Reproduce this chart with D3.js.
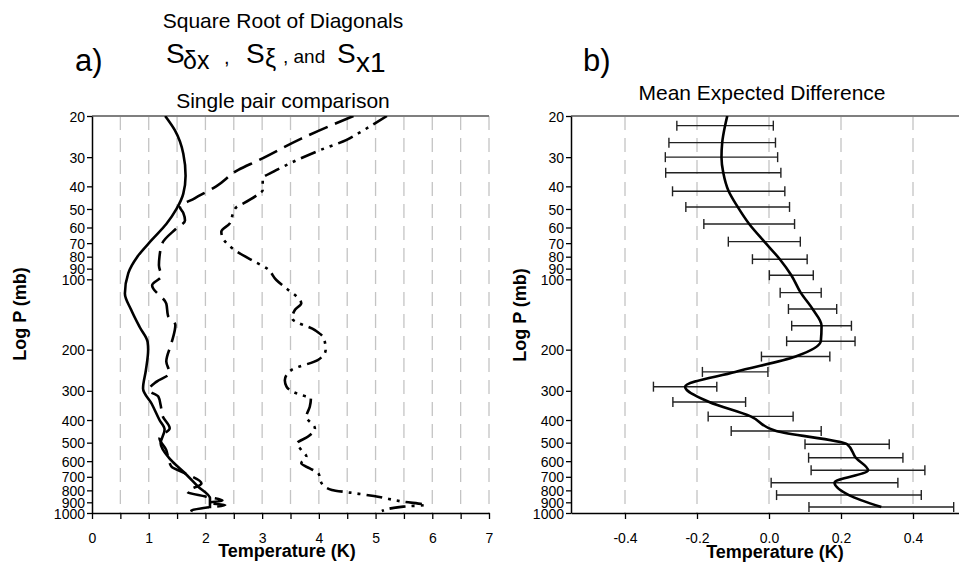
<!DOCTYPE html>
<html>
<head>
<meta charset="utf-8">
<script src="https://cdn.jsdelivr.net/npm/d3@7"></script>
<style>
  body { margin: 0; background: #fff; }
  text { font-family: "Liberation Sans", Arial, sans-serif; }
</style>
</head>
<body>
<svg id="chart" width="959" height="568"></svg>
<script>
// axis ticks
const pressureTicks = [20, 30, 40, 50, 60, 70, 80, 90, 100, 200, 300, 400, 500, 600, 700, 800, 900, 1000];
const tempTicksA = [0, 1, 2, 3, 4, 5, 6, 7];
const tempTicksB = [-0.4, -0.2, 0.0, 0.2, 0.4];

// panel a: solid curve (pressure mb, K)
const solidP = [20, 23, 29, 36, 43, 50, 58, 68, 80, 94, 115, 135, 160, 185, 200, 245, 293, 340, 400, 440, 503, 593, 676, 771, 865, 955];
const solidT = [1.29, 1.46, 1.61, 1.65, 1.61, 1.49, 1.31, 1.05, 0.80, 0.64, 0.58, 0.69, 0.84, 0.98, 0.99, 0.95, 0.90, 1.05, 1.19, 1.28, 1.21, 1.39, 1.64, 1.87, 2.08, 2.08];

// panel a: long dash curve
const dashP = [20, 25, 31, 34, 40, 45, 49, 52, 56, 60.5, 70, 80, 87, 97, 106, 127, 143, 157, 188, 225, 252, 274, 298, 318, 345, 387, 434, 479, 538, 574, 633, 676, 747, 811, 850, 885, 905, 925, 950, 975, 990];
const dashT = [4.61, 3.69, 2.93, 2.58, 2.19, 1.81, 1.55, 1.61, 1.64, 1.49, 1.24, 1.19, 1.18, 1.22, 1.06, 1.31, 1.34, 1.47, 1.40, 1.31, 1.37, 1.14, 1.00, 1.17, 1.21, 1.25, 1.37, 1.19, 1.31, 1.34, 1.40, 1.64, 1.93, 1.68, 2.00, 2.30, 2.05, 2.35, 2.00, 1.75, 1.90];

// panel a: dash-dot-dot curve
const ddotP = [20, 21.5, 23.7, 25.3, 28, 31.9, 34.6, 37, 41.5, 43.6, 47.3, 49, 52, 57.6, 62.5, 66.8, 75, 82.6, 89.7, 100.7, 111, 118.6, 126.6, 135, 147, 165, 179, 200, 221, 244, 270, 288, 313, 322, 351, 387, 434, 471, 503, 538, 574, 613, 644, 676, 747, 797, 818, 846, 895, 924, 939, 981];
const ddotT = [5.20, 4.99, 4.70, 4.49, 4.02, 3.49, 3.20, 3.01, 3.01, 2.91, 2.67, 2.55, 2.49, 2.43, 2.28, 2.31, 2.52, 2.81, 3.08, 3.25, 3.46, 3.61, 3.69, 3.58, 3.53, 3.93, 4.09, 4.12, 3.99, 3.52, 3.40, 3.43, 3.69, 3.86, 3.84, 3.78, 3.93, 3.81, 3.62, 3.69, 3.78, 3.69, 3.84, 3.99, 4.05, 4.23, 4.55, 4.97, 5.49, 5.88, 5.49, 5.11];

// panel b: mean expected difference with error bars (null = no bar)
const levelsB = [20, 22, 26, 30, 35, 42, 49, 58, 69, 82, 96, 114, 134, 158, 184, 214, 249, 288, 335, 386, 446, 508, 580, 656, 742, 838, 943];
const meanB = [-0.116, -0.122, -0.130, -0.132, -0.127, -0.112, -0.087, -0.055, -0.013, 0.030, 0.062, 0.088, 0.121, 0.146, 0.144, 0.074, -0.094, -0.233, -0.166, -0.051, 0.020, 0.217, 0.241, 0.275, 0.182, 0.222, 0.312];
const errB = [null, 0.134, 0.148, 0.156, 0.160, 0.156, 0.144, 0.126, 0.100, 0.076, 0.061, 0.057, 0.067, 0.083, 0.095, 0.095, 0.091, 0.088, 0.101, 0.118, 0.125, 0.117, 0.131, 0.158, 0.176, 0.201, 0.201];

const svg = d3.select("#chart");
const yTop = 116, yBottom = 513;
const y = d3.scaleLog().domain([20, 1000]).range([yTop, yBottom]);
const xA = d3.scaleLinear().domain([0, 7]).range([92, 489]);
const xB = d3.scaleLinear().domain([-0.55, 0.55]).range([571, 967]);

function drawFrame(x, gridValues, xTickValues, xFormat, clipId) {
  const [x0, x1] = x.range();
  svg.append("clipPath").attr("id", clipId)
    .append("rect")
    .attr("x", x0).attr("y", yTop)
    .attr("width", x1 - x0).attr("height", yBottom - yTop);

  svg.append("g")
    .selectAll("line")
    .data(gridValues)
    .join("line")
    .attr("x1", d => x(d)).attr("x2", d => x(d))
    .attr("y1", yTop).attr("y2", yBottom)
    .attr("stroke", "#c4c4c4")
    .attr("stroke-width", 1.3)
    .attr("stroke-dasharray", "14,8");

  // top border
  svg.append("line")
    .attr("x1", x0).attr("x2", x1)
    .attr("y1", yTop).attr("y2", yTop)
    .attr("stroke", "#7f7f7f")
    .attr("stroke-width", 2);

  const gx = svg.append("g")
    .attr("transform", `translate(0,${yBottom})`)
    .call(d3.axisBottom(x).tickValues(xTickValues).tickFormat(xFormat)
      .tickSize(6).tickSizeOuter(0).tickPadding(14));
  const gy = svg.append("g")
    .attr("transform", `translate(${x0},0)`)
    .call(d3.axisLeft(y).tickValues(pressureTicks).tickFormat(d3.format("d"))
      .tickSize(5).tickSizeOuter(0).tickPadding(2));

  [gx, gy].forEach(g => {
    g.attr("font-family", "Liberation Sans, Arial, sans-serif").attr("font-size", 14);
    g.select(".domain").attr("stroke", "#000").attr("stroke-width", 1.5);
    g.selectAll(".tick line").attr("stroke", "#000").attr("stroke-width", 1.3);
    g.selectAll(".tick text").attr("fill", "#000");
  });
  gy.selectAll(".tick text").attr("dy", "0.36em");
}

// ---- panel a ----
drawFrame(xA, d3.range(0.5, 7.01, 0.5), d3.range(0, 7.01, 0.5),
  d => Number.isInteger(d) ? d : "", "clipA");

const lineA = d3.line()
  .x(d => xA(d[1]))
  .y(d => y(d[0]))
  .curve(d3.curveMonotoneY);

const seriesA = [
  { p: solidP, t: solidT, dash: null },
  { p: dashP, t: dashT, dash: "20,8" },
  { p: ddotP, t: ddotT, dash: "16,6,3,6,3,6" },
];
const gA = svg.append("g").attr("clip-path", "url(#clipA)");
seriesA.forEach(s => {
  gA.append("path")
    .attr("d", lineA(d3.zip(s.p, s.t)))
    .attr("fill", "none")
    .attr("stroke", "#000")
    .attr("stroke-width", 2.6)
    .attr("stroke-dasharray", s.dash);
});

// ---- panel b ----
drawFrame(xB, tempTicksB, tempTicksB, d => d.toFixed(1), "clipB");

const gB = svg.append("g").attr("clip-path", "url(#clipB)");
const bars = levelsB.map((p, i) => ({ p: p, m: meanB[i], e: errB[i] })).filter(d => d.e !== null);
const capH = 5;
gB.selectAll("g.bar")
  .data(bars)
  .join("g")
  .attr("class", "bar")
  .each(function (d) {
    const g = d3.select(this);
    const yy = y(d.p);
    g.append("line")
      .attr("x1", xB(d.m - d.e)).attr("x2", xB(d.m + d.e))
      .attr("y1", yy).attr("y2", yy);
    g.append("line")
      .attr("x1", xB(d.m - d.e)).attr("x2", xB(d.m - d.e))
      .attr("y1", yy - capH).attr("y2", yy + capH);
    g.append("line")
      .attr("x1", xB(d.m + d.e)).attr("x2", xB(d.m + d.e))
      .attr("y1", yy - capH).attr("y2", yy + capH);
    g.selectAll("line").attr("stroke", "#222").attr("stroke-width", 1.4);
  });

const lineB = d3.line()
  .x(d => xB(d[1]))
  .y(d => y(d[0]))
  .curve(d3.curveMonotoneY);
gB.append("path")
  .attr("d", lineB(d3.zip(levelsB, meanB)))
  .attr("fill", "none")
  .attr("stroke", "#000")
  .attr("stroke-width", 2.6);

// ---- titles ----
function label(txt, x, yy, size, opts = {}) {
  return svg.append("text")
    .text(txt)
    .attr("x", x).attr("y", yy)
    .attr("font-size", size)
    .attr("font-weight", opts.bold ? "bold" : "normal")
    .attr("text-anchor", opts.anchor || "start")
    .attr("fill", "#000");
}

label("a)", 75, 71, 31);
label("b)", 583, 71, 31);
label("Square Root of Diagonals", 283, 28, 21, { anchor: "middle" });
label("S", 166, 63, 28);
label("δx", 183, 69, 25);
label(",", 224, 64, 20);
label("S", 246, 63, 28);
label("ξ", 265, 67, 25);
label(", and", 283, 63, 19);
label("S", 337, 63, 28);
label("x1", 356, 72, 28);
label("Single pair comparison", 283, 108, 21, { anchor: "middle" });
label("Mean Expected Difference", 762, 100, 21, { anchor: "middle" });

label("Temperature (K)", 287, 557, 18, { bold: true, anchor: "middle" });
label("Temperature (K)", 775, 558, 18, { bold: true, anchor: "middle" });
label("Log P (mb)", 0, 0, 18, { bold: true, anchor: "middle" })
  .attr("transform", "translate(26,314) rotate(-90)");
label("Log P (mb)", 0, 0, 18, { bold: true, anchor: "middle" })
  .attr("transform", "translate(526,315) rotate(-90)");
</script>
</body>
</html>
